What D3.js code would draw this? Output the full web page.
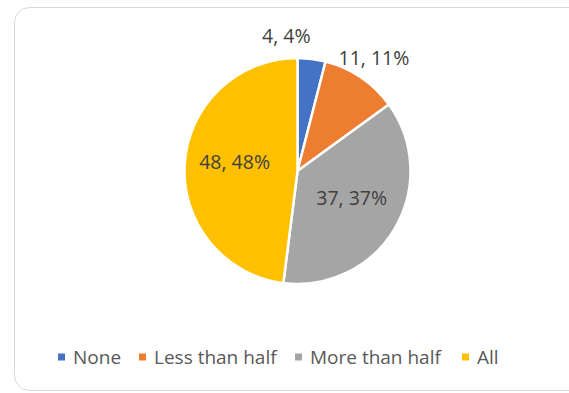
<!DOCTYPE html>
<html>
<head>
<meta charset="utf-8">
<script src="https://cdn.jsdelivr.net/npm/d3@7"></script>
<style>
  body { margin: 0; background: #fff; }
  svg { display: block; font-family: "Open Sans", "Liberation Sans", sans-serif; }
</style>
</head>
<body>
<svg id="chart" width="569" height="393"></svg>
<script>
const categories = ["None", "Less than half", "More than half", "All"];
const values = [4, 11, 37, 48];
const percents = ["4%", "11%", "37%", "48%"];
const colors = ["#4472C4", "#ED7D31", "#A5A5A5", "#FFC000"];

const svg = d3.select("#chart");

// chart frame
svg.append("rect")
    .attr("x", 14.5).attr("y", 7.5)
    .attr("width", 575).attr("height", 383)
    .attr("rx", 15)
    .attr("fill", "#fff")
    .attr("stroke", "#d9d9d9");

const cx = 297.5, cy = 171, radius = 113;

const pie = d3.pie().value(d => d).sort(null);
const arc = d3.arc().innerRadius(0).outerRadius(radius);
const arcs = pie(values);

const g = svg.append("g").attr("transform", `translate(${cx},${cy})`);

g.selectAll("path")
    .data(arcs)
    .enter()
    .append("path")
    .attr("d", arc)
    .attr("fill", (_, i) => colors[i])
    .attr("stroke", "#fff")
    .style("stroke-width", "2.5px");

// data labels: small slices outside, big ones inside
const inner = d3.arc().innerRadius(126).outerRadius(0);
const outer = d3.arc().innerRadius(136).outerRadius(136);
g.selectAll("text")
    .data(arcs)
    .enter()
    .append("text")
    .each(function (d, i) {
        const small = d.value < 15;
        const mid = (d.startAngle + d.endAngle) / 2;
        const p = small ? outer.centroid(d) : inner.centroid(d);
        d3.select(this)
            .attr("x", small && mid < 0.3 ? p[0] - 4 : p[0])
            .attr("y", small ? p[1] : p[1] - 5)
            .attr("text-anchor", small && mid < 0.3 ? "end" : "middle");
    })
    .attr("dy", "0.35em")
    .attr("fill", "#404040")
    .style("font-size", "19.5px")
    .text((d, i) => `${d.value}, ${percents[i]}`);

// legend
const legendX = [58, 139, 295, 462];
const legend = svg.append("g").attr("transform", "translate(0,357)");
const items = legend.selectAll("g")
    .data(categories)
    .enter()
    .append("g")
    .attr("transform", (_, i) => `translate(${legendX[i]},0)`);
items.append("rect")
    .attr("x", 0).attr("y", -3.5)
    .attr("width", 7).attr("height", 7)
    .attr("fill", (_, i) => colors[i]);
items.append("text")
    .attr("x", 15)
    .attr("dy", "0.35em")
    .attr("fill", "#595959")
    .style("font-size", "19px")
    .text(d => d);
</script>
</body>
</html>
